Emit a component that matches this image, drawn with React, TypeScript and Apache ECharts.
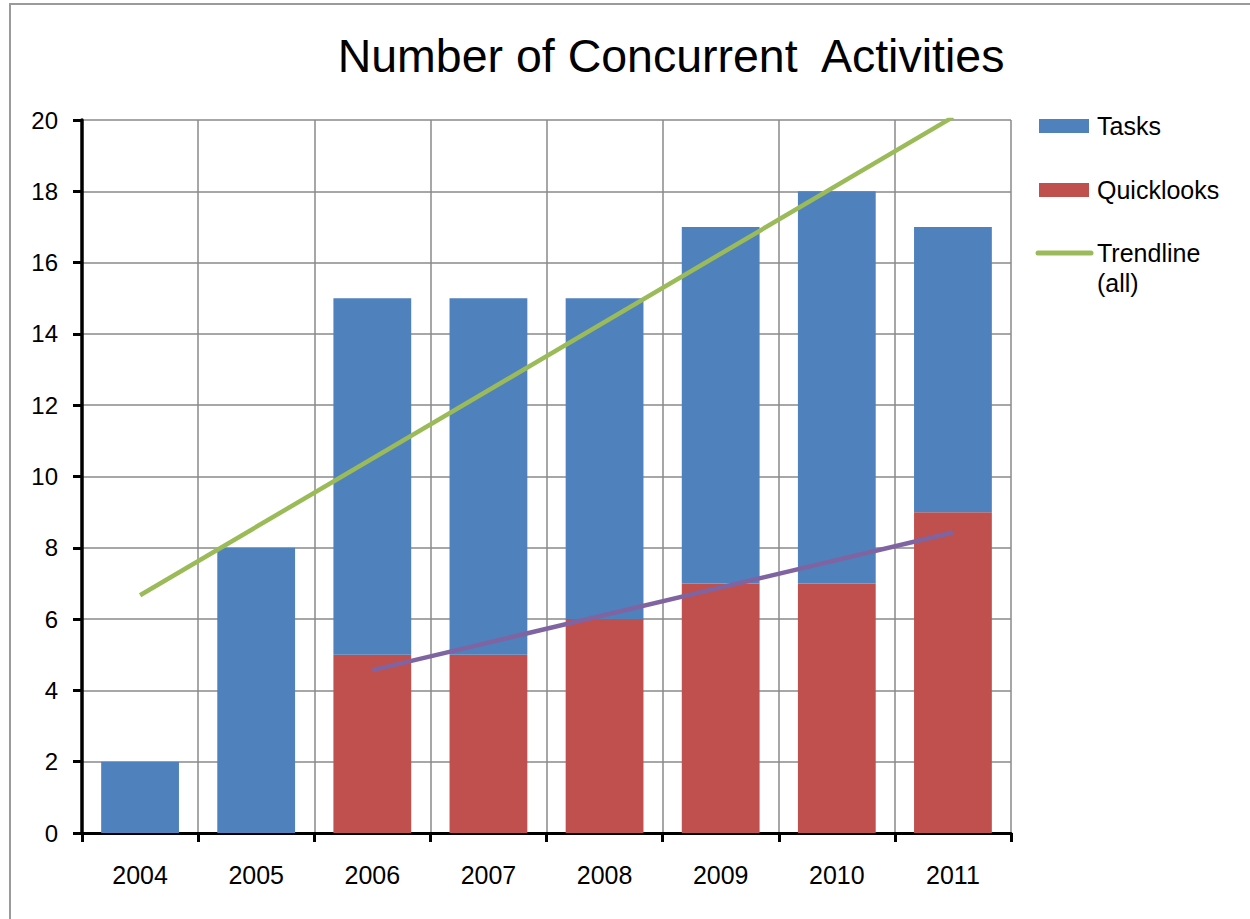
import React, { useEffect, useRef } from "react";
import * as echarts from "echarts";

const categories = ["2004", "2005", "2006", "2007", "2008", "2009", "2010", "2011"];
const quicklooks = [0, 0, 5, 5, 6, 7, 7, 9];
const tasks = [2, 8, 10, 10, 9, 10, 11, 8];
// trendline endpoints (straight lines between them)
const trendAll = [6.67, null, null, null, null, null, null, 20.08];
const trendQuick = [null, null, 4.57, null, null, null, null, 8.43];

const FONT = "'Liberation Sans', Arial, sans-serif";
const BLUE = "#4F81BD";
const RED = "#C0504D";
const GREEN = "#9BBB59";
const PURPLE = "#8064A2";

export default function App() {
  const ref = useRef<HTMLDivElement>(null);
  useEffect(() => {
    const chart = echarts.init(ref.current!, undefined, { renderer: "svg" });
    chart.setOption({
      animation: false,
      backgroundColor: "#ffffff",
      title: {
        text: "Number of Concurrent  Activities",
        left: 666,
        textAlign: "center",
        top: 27,
        textStyle: { fontFamily: FONT, fontSize: 46.5, fontWeight: "normal", color: "#000" },
      },
      grid: { left: 82, right: 239, top: 120, bottom: 86, containLabel: false },
      xAxis: {
        type: "category",
        data: categories,
        boundaryGap: true,
        axisLine: { lineStyle: { color: "#000", width: 3 } },
        axisTick: { show: true, length: 9, lineStyle: { color: "#000", width: 3 }, interval: 0 },
        axisLabel: { fontFamily: FONT, fontSize: 25, color: "#000", margin: 29, interval: 0 },
        splitLine: { show: true, interval: 0, lineStyle: { color: "#8a8a8a", width: 1.5 } },
      },
      yAxis: {
        type: "value",
        min: 0,
        max: 20,
        interval: 2,
        axisLine: { show: true, lineStyle: { color: "#000", width: 3.5 } },
        axisTick: { show: true, length: 9, lineStyle: { color: "#000", width: 3 } },
        axisLabel: { fontFamily: FONT, fontSize: 24, color: "#000", margin: 24 },
        splitLine: { show: true, lineStyle: { color: "#8a8a8a", width: 1.5 } },
      },
      series: [
        {
          name: "Quicklooks",
          type: "bar",
          stack: "total",
          data: quicklooks,
          barCategoryGap: "33%",
          itemStyle: { color: RED },
        },
        {
          name: "Tasks",
          type: "bar",
          stack: "total",
          data: tasks,
          barCategoryGap: "33%",
          itemStyle: { color: BLUE },
        },
        {
          name: "Trendline (all)",
          type: "line",
          data: trendAll,
          connectNulls: true,
          symbol: "none",
          clip: true,
          lineStyle: { color: GREEN, width: 4.5 },
          z: 5,
        },
        {
          name: "Trendline (Quicklooks)",
          type: "line",
          data: trendQuick,
          connectNulls: true,
          symbol: "none",
          clip: true,
          lineStyle: { color: PURPLE, width: 4.5 },
          z: 5,
        },
      ],
      graphic: [
        {
          type: "rect",
          shape: { x: 10, y: 4, width: 1400, height: 1100 },
          style: { fill: "none", stroke: "#9a9a9a", lineWidth: 2 },
          silent: true,
        },
        { type: "rect", shape: { x: 1039, y: 119, width: 50, height: 14 }, style: { fill: BLUE } },
        {
          type: "text",
          x: 1097,
          y: 126,
          style: { text: "Tasks", font: `25px ${FONT}`, fill: "#000", verticalAlign: "middle" },
        },
        { type: "rect", shape: { x: 1039, y: 183, width: 50, height: 14 }, style: { fill: RED } },
        {
          type: "text",
          x: 1097,
          y: 190,
          style: { text: "Quicklooks", font: `25px ${FONT}`, fill: "#000", verticalAlign: "middle" },
        },
        {
          type: "line",
          shape: { x1: 1038, y1: 253, x2: 1091, y2: 253 },
          style: { stroke: GREEN, lineWidth: 5, lineCap: "round" },
        },
        {
          type: "text",
          x: 1097,
          y: 253,
          style: { text: "Trendline", font: `25px ${FONT}`, fill: "#000", verticalAlign: "middle" },
        },
        {
          type: "text",
          x: 1097,
          y: 283,
          style: { text: "(all)", font: `25px ${FONT}`, fill: "#000", verticalAlign: "middle" },
        },
      ],
    });
    return () => chart.dispose();
  }, []);
  return (
    <div
      ref={ref}
      style={{ position: "fixed", left: 0, top: 0, width: 1250, height: 919 }}
    />
  );
}
